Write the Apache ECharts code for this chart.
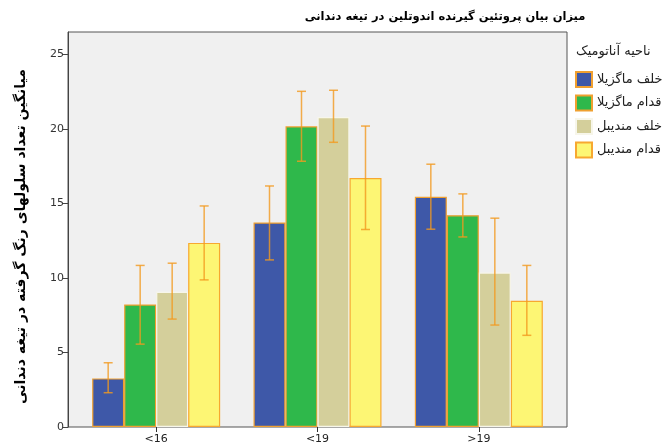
<!DOCTYPE html>
<html lang="fa">
<head>
<meta charset="utf-8">
<script src="https://cdn.jsdelivr.net/npm/echarts@6/dist/echarts.min.js"></script>
<style>html,body{margin:0;padding:0;background:#fff;}#c{width:671px;height:448px;}</style>
</head>
<body>
<div id="c"></div>
<script>
// ---- data ----
var categories = ['<16', '<19', '>19'];
var seriesNames = ['خلف ماگزیلا', 'قدام ماگزیلا', 'خلف مندیبل', 'قدام مندیبل'];
var postMaxilla = [3.26, 13.72, 15.44];
var antMaxilla = [8.22, 20.17, 14.21];
var postMandible = [9.07, 20.8, 10.37];
var antMandible = [12.35, 16.71, 8.47];
var postMaxillaLow = [2.3, 11.21, 13.27];
var postMaxillaHigh = [4.31, 16.17, 17.63];
var antMaxillaLow = [5.56, 17.83, 12.75];
var antMaxillaHigh = [10.84, 22.52, 15.64];
var postMandibleLow = [7.24, 19.1, 6.84];
var postMandibleHigh = [10.99, 22.59, 14.01];
var antMandibleLow = [9.87, 13.25, 6.15];
var antMandibleHigh = [14.83, 20.19, 10.84];
var yTicks = [0, 5, 10, 15, 20, 25];
var titleText = 'میزان بیان پروتئین گیرنده اندوتلین در تیغه دندانی';
var yName = 'میانگین تعداد سلولهای رنگ گرفته در تیغه دندانی';
var legendTitle = 'ناحیه آناتومیک';

// ---- build ----
var FONT = '"DejaVu Sans", "Liberation Sans", sans-serif';
var means = [postMaxilla, antMaxilla, postMandible, antMandible];
var lows = [postMaxillaLow, antMaxillaLow, postMandibleLow, antMandibleLow];
var highs = [postMaxillaHigh, antMaxillaHigh, postMandibleHigh, antMandibleHigh];
var fills = ['#3e58a8', '#2fb84b', '#d4cf9b', '#fdf674'];
var borders = ['#f0a030', '#f0a030', '#f7f6ea', '#f7a830'];
var BAR_W = 32;
var YMAX = 26.5;

var series = [];
for (var k = 0; k < 4; k++) {
  series.push({
    name: seriesNames[k],
    type: 'bar',
    xAxisIndex: 1, yAxisIndex: 1,
    barWidth: BAR_W, barGap: '0%',
    itemStyle: { color: fills[k], borderColor: borders[k], borderWidth: 1.2 },
    emphasis: { disabled: true },
    data: means[k]
  });
}
for (var k2 = 0; k2 < 4; k2++) {
  (function (k) {
    var d = categories.map(function (c, i) { return [i, lows[k][i], highs[k][i]]; });
    series.push({
      type: 'custom',
      xAxisIndex: 1, yAxisIndex: 1,
      z: 10,
      silent: true,
      data: d,
      encode: { x: 0, y: [1, 2] },
      renderItem: function (params, api) {
        var i = api.value(0);
        var lo = api.coord([i, api.value(1)]);
        var hi = api.coord([i, api.value(2)]);
        var x = lo[0] + (k - 1.5) * BAR_W;
        var cap = 4.5;
        var st = { stroke: '#f29a1f', lineWidth: 1.5, opacity: 0.8 };
        return {
          type: 'group',
          children: [
            { type: 'line', shape: { x1: x, y1: lo[1], x2: x, y2: hi[1] }, style: st },
            { type: 'line', shape: { x1: x - cap, y1: lo[1], x2: x + cap, y2: lo[1] }, style: st },
            { type: 'line', shape: { x1: x - cap, y1: hi[1], x2: x + cap, y2: hi[1] }, style: st }
          ]
        };
      }
    });
  })(k2);
}

var chart = echarts.init(document.getElementById('c'), null, { renderer: 'canvas' });
chart.setOption({
  backgroundColor: '#ffffff',
  animation: false,
  textStyle: { fontFamily: FONT },
  title: [
    { text: titleText, left: 440, top: 6, textAlign: 'center',
      textStyle: { fontFamily: FONT, fontSize: 11.5, fontWeight: 'bold', color: '#000' } },
    { text: legendTitle, left: 571, top: 40,
      textStyle: { fontFamily: FONT, fontSize: 13, fontWeight: 'normal', color: '#222' } }
  ],
  legend: {
    orient: 'vertical', left: 570, top: 66,
    itemWidth: 16, itemHeight: 15, itemGap: 6.5,
    icon: 'rect',
    selectedMode: false,
    data: seriesNames,
    textStyle: { fontFamily: FONT, fontSize: 13, color: '#222' }
  },
  grid: [
    { left: 68, right: 104, top: 32, bottom: 21, show: true, backgroundColor: '#f0f0f0',
      borderColor: '#555', borderWidth: 1 },
    { left: 75.5, right: 111.5, top: 32, bottom: 21, show: false }
  ],
  xAxis: [
    { gridIndex: 0, type: 'value', show: false, min: 0, max: 1 },
    { gridIndex: 1, type: 'category', data: categories,
      axisLine: { show: false },
      axisTick: { show: true, alignWithLabel: true, length: 5, lineStyle: { color: '#333' } },
      axisLabel: { fontFamily: FONT, fontSize: 11, color: '#222', margin: 7 } }
  ],
  yAxis: [
    { gridIndex: 0, type: 'value', min: 0, max: YMAX,
      splitLine: { show: false },
      axisLine: { show: true, lineStyle: { color: '#444' } },
      axisTick: { show: true, length: 5, customValues: yTicks, lineStyle: { color: '#444' } },
      axisLabel: { fontFamily: FONT, fontSize: 11, color: '#333', margin: 4, customValues: yTicks },
      name: yName, nameLocation: 'middle', nameRotate: 90, nameGap: 40,
      nameTextStyle: { fontFamily: FONT, fontSize: 14, fontWeight: 'bold', color: '#000',
        padding: [0, 14, 0, 0] } },
    { gridIndex: 1, type: 'value', min: 0, max: YMAX, show: false, splitLine: { show: false } }
  ],
  series: series
});
</script>
</body>
</html>
